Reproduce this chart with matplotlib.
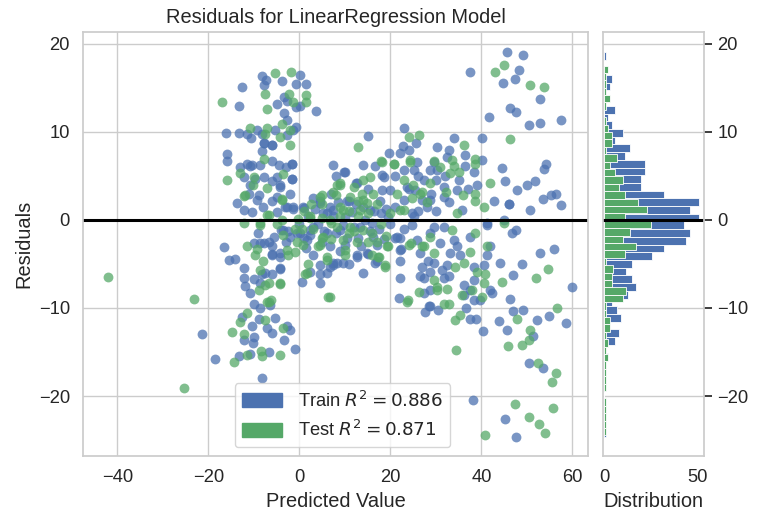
import numpy as np
import matplotlib.pyplot as plt
import seaborn as sns
from matplotlib.patches import Patch

# scatter points: (predicted value, residual)
train_pts = [
    (-8.1,16.4),(-7.4,15.9),(-7.8,15.3),(-3.7,15.8),(0.2,16.5),(-0.8,15.5),(1.4,15.5),(-12.5,15.1),
    (-13.3,13.0),(-4.8,13.2),(-3.3,14.0),(-2.7,13.5),(-0.8,12.8),(0.2,13.0),(3.6,12.4),(-3.3,12.1),
    (-2.7,11.4),(-0.8,10.6),(-1.3,10.2),(-16.2,9.9),(-13.3,9.9),(-11.5,9.8),(-10.6,9.3),(-9.3,10.2),
    (-8.2,9.8),(-5.3,10.2),(-2.7,9.7),(-7.7,8.7),(-5.9,8.5),(-8.1,7.8),(-15.8,7.5),(-16.0,6.7),
    (-13.0,6.0),(-11.5,6.4),(-10.4,6.3),(-8.6,6.3),(-6.0,6.7),(-4.5,6.3),(-2.9,6.0),(-1.7,6.4),
    (7.5,6.3),(-12.2,4.9),(-9.7,4.7),(-7.7,4.9),(-6.0,4.4),(-4.2,4.0),(-1.5,4.7),(-4.9,4.9),
    (-10.8,4.0),(-8.9,2.8),(-9.3,2.3),(-13.7,1.9),(-10.4,0.9),(-4.9,0.9),(-2.7,1.5),(-1.3,1.5),
    (1.1,1.4),(-4.9,2.6),(4.6,1.9),(7.5,1.1),
    (45.6,19.1),(49.1,18.8),(37.6,16.8),(48.2,17.0),(47.5,16.0),(44.7,15.6),(52.8,13.8),(46.4,12.7),
    (47.6,12.3),(41.7,11.7),(50.4,10.8),(53.0,11.0),(57.6,11.4),(40.1,9.3),(23.1,10.4),(15.2,9.5),
    (14.1,6.3),(19.8,7.6),(22.7,8.4),(25.7,8.7),(30.3,8.3),(33.9,9.3),(36.5,7.4),(40.1,6.8),
    (44.5,5.9),(45.1,4.4),(53.7,5.8),(54.2,6.4),(50.1,4.0),(51.7,4.4),(47.8,3.4),(55.2,2.8),
    (56.3,3.0),(53.5,2.4),(57.6,1.7),(46.0,1.8),(50.8,1.1),(42.7,2.1),(39.1,4.0),(36.5,6.1),
    (38.3,5.5),(16.7,6.1),(18.5,4.9),(12.5,4.2),(9.9,5.5),(25.1,5.7),(28.8,5.7),(32.5,7.2),
    (27.3,4.5),(23.7,3.8),(20.0,3.4),(34.7,3.4),(31.7,2.6),(35.8,1.1),(41.3,-0.4),(44.9,0.0),
    (28.8,2.3),(25.1,0.4),
    (-16.5,-3.1),(-15.5,-4.5),(-12.1,-5.5),(-12.2,-6.6),(-11.9,-7.5),(-10.8,-8.3),(-9.9,-6.7),(-8.6,-7.2),
    (-7.5,-6.0),(-6.0,-6.1),(-4.3,-5.6),(-10.0,-2.6),(-8.6,-2.6),(-6.7,-2.5),(-5.9,-3.9),(-4.2,-4.2),
    (-4.0,-1.1),(-2.4,-1.3),(0.1,-1.5),(2.4,-1.7),(-10.0,-9.5),(-8.6,-10.0),(-6.4,-9.7),(-12.6,-11.0),
    (-10.3,-12.1),(-8.9,-11.2),(-7.1,-12.3),(-5.3,-11.1),(-2.7,-12.0),(-2.1,-12.5),(-3.3,-13.6),(-6.0,-12.8),
    (-12.2,-13.6),(-10.2,-14.0),(-10.0,-13.3),(-6.7,-15.0),(-10.9,-15.2),(-13.3,-15.5),(-0.9,-14.7),(-21.3,-13.0),
    (-18.5,-15.8),(-8.1,-17.9),(4.6,-5.1),(4.6,-7.2),(0.6,-7.1),(2.4,-5.9),(7.5,-5.1),
    (46.1,1.8),(46.7,-1.5),(47.6,-1.1),(41.2,-0.6),(53.0,-3.8),(55.9,-3.3),(48.9,-5.0),(47.0,-6.3),
    (59.9,-7.6),(46.4,-9.0),(46.9,-10.3),(49.1,-10.2),(52.3,-11.4),(54.8,-10.9),(58.7,-11.7),(43.8,-11.5),
    (45.6,-12.5),(40.3,-12.6),(51.3,-13.2),(50.5,-16.2),(53.5,-16.8),(38.1,-20.5),(45.3,-22.6),(47.6,-24.7),
    (37.6,-11.2),(38.8,-11.3),(36.6,-10.0),(27.6,-10.4),(28.6,-9.8),(30.4,-10.2),(21.8,-8.9),(22.2,-6.6),
    (22.2,-4.7),(22.4,-3.3),(22.2,-2.1),(21.1,-2.1),(17.1,-4.7),(15.2,-3.9),(12.7,-4.0),(9.7,-4.9),
    (7.5,-4.9),(27.0,-5.3),(28.2,-4.7),(28.8,-5.9),(27.3,-6.6),(27.3,-8.3),(31.4,-5.7),(31.7,-6.6),
    (32.8,-6.4),(32.5,-5.1),(33.2,-3.8),(34.7,-3.0),(35.4,-4.0),(36.1,-7.4),(38.3,-6.8),(38.3,-5.3),
    (42.0,-8.0),(42.3,-8.3),(36.1,-8.5),(40.5,-5.1),(44.2,-4.9),(42.0,-3.0),(41.2,-4.0),(24.8,-0.6),
    (29.5,-0.8),(31.0,-2.6),(33.9,-2.3),(37.6,-1.9),(16.7,-4.9),(38.3,-9.1),(39.8,-9.1),(37.6,-8.0),
    (10.1,5.5),(12.7,4.2),(18.2,5.1),(4.6,2.1),(6.8,1.5),(5.3,0.8),(10.5,2.1),(15.6,1.1),
    (17.8,2.1),(18.2,3.4),(3.1,-0.8),(6.1,-1.5),(9.0,-1.1),(13.4,-0.8),(16.3,-1.9),(6.8,-3.0),
    (10.1,-2.8),(12.7,-4.2),(14.9,-3.8),(6.8,-5.3),(8.3,-4.9),(4.6,-6.1),(2.4,-1.1),(1.7,-2.3),
    (-0.5,-1.5),(-2.0,-1.9),(-3.5,-1.1),(-5.6,-1.9),(-7.8,-2.6),(0.9,1.5),(-1.3,1.3),(-3.1,1.5),
    (-4.2,3.8),(-1.6,4.7),(-1.6,6.4),(-6.0,8.5),(-7.8,8.7),(-10.8,6.1),(22.2,7.6),(22.9,5.7),
    (25.9,6.6),(29.5,6.6),(30.3,5.7),(31.7,3.8),(25.5,3.4),(22.9,2.3),(28.1,1.5),(24.8,0.8),
    (21.5,-1.9),(22.2,-3.4),(25.9,-2.3),(28.8,-1.5),(31.7,-0.8),(26.6,-3.8),(29.5,-4.9),(26.6,-6.4),
    (28.8,-8.0),(28.8,-9.8),(-8.2,-6.1),(-6.0,-4.0),(-4.2,-3.8),(-4.2,-5.5),(-12.2,1.1),(-14.1,-4.4),
    (2,0.5),(4,-0.5),(6,0.8),(8,-1.5),(10,0.3),(12,-0.8),(14,1.5),(16,-0.3),
    (18,0.8),(1,-2),(3,2.5),(5,-2.5),(7,3),(9,-3.5),(11,2.2),(13,-2),
    (15,3.5),(17,-2.8),(19,1.2),(20,-0.5),(3,-4),(11,-5),(14,-6),(8,5),(6,-6),
    (0,-0.5),(1.5,-3.2),(3.5,1.2),(5.5,-1.2),(7.5,0.4),(8.5,2),(9.5,-0.6),(10.5,-2),
    (11.5,0.9),(12.5,1.8),(13.5,-3),(14.5,0),(15.5,-1.2),(16.5,1.0),(17.5,-1),(18.5,-2.2),
    (19.5,0.3),(21,1.5),(23,-1),(24,3.5),(26,1),(27,2.3),(29,3),(30,1),
    (32,5),(33,2),(35,4.5),(37,3.5),(26,5),(30,4.5),(33,8),(24,8),
    (21,5),(-2,3),(-3,-2.5),(-6,-3),(-9,-1.5),(-11,3),(-8,1.5),(-6,2.2),
]

test_pts = [
    (-16.9,13.4),(-5.4,16.7),(-1.8,16.8),(-7.6,14.3),(-7.0,12.6),(-2.3,14.3),(1.5,14.2),(1.5,13.4),
    (-1.3,13.4),(-10.9,10.5),(-7.0,10.5),(-7.5,9.8),(-3.7,10.9),(-4.2,9.4),(-2.0,10.2),(-2.1,8.5),
    (-7.8,6.9),(-13.1,5.3),(-15.8,4.5),(-10.0,4.9),(-10.2,4.0),(-7.1,3.6),(-3.6,5.2),(-12.0,2.8),
    (-3.7,2.3),(-6.7,0.6),(5.0,2.8),(8.3,4.0),(2.4,0.4),(-0.2,0.1),
    (44.9,17.6),(43.1,16.8),(50.6,15.3),(53.7,15.1),(46.4,9.2),(13.0,8.3),(24.1,9.4),(26.4,9.6),
    (36.1,8.5),(18.0,6.7),(20.9,6.4),(24.4,6.6),(29.7,6.7),(33.6,6.8),(38.7,6.9),(38.7,6.4),
    (33.2,5.3),(34.1,6.1),(15.6,4.9),(28.8,4.2),(32.3,3.2),(42.0,4.2),(38.7,3.0),(38.7,2.2),
    (36.0,2.8),(40.5,1.5),(26.6,3.0),(34.7,0.8),(44.9,-0.4),(9.0,4.2),(14.1,2.3),(22.2,1.1),
    (-42.1,-6.5),(-23.1,-9.0),(-25.4,-19.1),(-11.5,-3.0),(-9.3,-3.3),(-8.0,-4.7),(-8.6,-5.7),(-6.7,-7.2),
    (-8.9,-8.0),(-4.2,-7.3),(-7.1,-9.3),(-6.2,-9.1),(-11.5,-10.6),(-13.1,-11.6),(-14.8,-12.7),(-12.2,-12.9),
    (-7.5,-11.4),(-3.5,-12.3),(-8.4,-14.9),(-8.2,-15.5),(-11.5,-15.3),(-14.4,-16.1),(-4.3,-15.3),(6.7,-8.8),
    (1.7,-6.0),(-2.7,-3.4),(-0.5,-2.5),(-12.2,-0.4),(-8.6,-0.6),(5.0,-2.1),
    (24.0,-2.8),(27.0,-3.0),(18.9,-5.3),(17.6,-4.2),(19.4,-3.0),(23.8,-9.1),(26.4,-8.2),(29.5,-6.8),
    (30.3,-8.0),(32.5,-7.8),(33.0,-9.5),(35.7,-8.5),(37.9,-7.9),(40.1,-8.7),(40.5,-7.2),(39.1,-5.9),
    (40.9,-6.1),(34.3,-11.4),(35.4,-10.8),(34.5,-14.8),(44.5,-7.0),(52.0,-6.6),(54.6,-5.6),(56.6,-10.0),
    (47.8,-11.2),(50.8,-12.5),(50.4,-13.6),(48.9,-14.2),(45.8,-14.3),(52.4,-16.3),(56.4,-17.4),(55.5,-18.4),
    (47.3,-20.9),(55.7,-21.4),(50.4,-22.4),(52.7,-23.2),(54.1,-24.2),(40.9,-24.4),(37.6,-3.6),(41.2,-3.0),
    (38.7,-1.5),(33.6,-1.1),(28.8,-1.9),(24.5,-2.6),(17.1,-2.5),(36.1,-4.9),(34.3,-5.3),
    (18.2,6.6),(20.7,6.4),(9.0,4.0),(7.5,3.2),(11.2,2.6),(13.8,3.0),(16.3,3.0),(14.9,1.9),
    (13.4,1.1),(9.7,1.1),(6.8,0.0),(8.3,-0.8),(11.2,-0.8),(14.1,-1.1),(5.3,-1.9),(9.7,-2.3),
    (12.7,-2.5),(4.6,-2.8),(6.1,-4.2),(10.1,-3.4),(19.3,-3.0),(17.4,-4.2),(18.9,-5.1),(1.3,-6.1),
    (6.4,-8.7),(4.6,2.6),(2.4,0.2),(0.9,-2.8),(-0.9,-3.6),(-2.4,-4.0),(-3.5,-1.7),(-3.8,0.0),
    (-8.6,-0.4),(-9.7,-4.0),(-7.5,-7.4),(-4.2,-7.2),(-6.7,-9.3),(-12.1,2.7),(-3.8,2.4),(-7.1,0.6),
    (23.7,-9.3),(22.9,1.1),(24.8,2.5),(24.4,6.8),(27.0,3.2),(27.3,-3.0),(29.5,-3.8),(30.3,-7.6),
    (31.7,-9.5),
    (1,1),(3,-1),(5,1.8),(7,-0.3),(9,1.5),(11,-1.5),(13,0.5),(15,-2.5),
    (17,1.8),(19,-1.8),(4,-3),(8,2.8),(12,3.8),(16,-4),(10,-4),(6,-4.5),(14,4.5),(2,-5),
    (0.5,-1),(2.5,1.8),(5,0.2),(7,-2.2),(9,0.5),(11,1),(12,-1.2),(13,2.2),
    (15,0.8),(16,-1.5),(18,-0.5),(20,0.8),(21.5,3),(23,4.5),(25,4),(28,2),
    (31,6),(35,5.5),(-1,-1),(-5,-0.5),
]

# histogram: 50 bins each, counts from bottom bin to top bin
train_range = (-24.7, 19.1)
train_counts = [1, 0, 0, 1, 0, 0, 1, 0, 1, 0, 2, 1, 6, 8, 2, 9, 7, 4, 13, 17,
                15, 12, 15, 26, 32, 44, 46, 43, 51, 46, 51, 32, 20, 20, 22, 22, 11, 14, 6, 10,
                4, 2, 6, 1, 1, 3, 4, 1, 0, 1]
test_range = (-24.48, 17.55)
test_counts = [1, 1, 1, 1, 1, 0, 1, 1, 1, 1, 2, 1, 2, 1, 3, 3, 1, 1, 10, 12,
               4, 4, 5, 1, 11, 17, 10, 14, 25, 11, 23, 18, 11, 8, 10, 6, 3, 7, 1, 4,
               4, 2, 1, 0, 1, 3, 1, 1, 1, 2]

train_r2 = 0.886
test_r2 = 0.871

sns.set_theme(style='whitegrid')
plt.rcParams['font.family'] = ['Liberation Sans', 'DejaVu Sans']
plt.rcParams['xtick.labelsize'] = 13.2
plt.rcParams['ytick.labelsize'] = 13.2
blue, green = sns.color_palette('deep')[0], sns.color_palette('deep')[2]

fig = plt.figure(figsize=(7.63, 5.27), dpi=100)
ax = fig.add_axes([0.109, 0.135, 0.662, 0.805])
hax = fig.add_axes([0.790, 0.135, 0.133, 0.805], sharey=ax)

tr = np.array(train_pts)
te = np.array(test_pts)
ax.scatter(tr[:, 0], tr[:, 1], c=[blue], alpha=0.75, s=50, lw=0)
ax.scatter(te[:, 0], te[:, 1], c=[green], alpha=0.75, s=50, lw=0)
ax.axhline(0, color='black', lw=2.2)

ax.set_xlim(-47.5, 63.5)
ax.set_ylim(-26.8, 21.4)
ax.set_xticks([-40, -20, 0, 20, 40, 60])
ax.set_yticks([-20, -10, 0, 10, 20])
ax.set_title('Residuals for LinearRegression Model', fontsize=14.4)
ax.set_xlabel('Predicted Value', fontsize=14.4)
ax.set_ylabel('Residuals', fontsize=14.4)

ax.legend(handles=[Patch(color=blue, label='Train $R^2 = %.3f$' % train_r2),
                   Patch(color=green, label='Test $R^2 = %.3f$' % test_r2)],
          loc='lower left', bbox_to_anchor=(0.30, 0.02), borderaxespad=0,
          frameon=True, fontsize=13.2, handlelength=2.2, handleheight=0.8,
          handletextpad=0.85)

# distribution of residuals
for lo_hi, counts, col in [(train_range, train_counts, blue), (test_range, test_counts, green)]:
    edges = np.linspace(lo_hi[0], lo_hi[1], len(counts) + 1)
    w = edges[1] - edges[0]
    hax.barh(edges[:-1] + w / 2, counts, height=w, color=col, edgecolor='white', lw=0.6)
hax.axhline(0, color='black', lw=2.2)
hax.set_xlim(-0.7, 53.8)
hax.set_xticks([0, 50])
hax.grid(False, axis='x')
hax.yaxis.tick_right()
hax.tick_params(axis='y', right=True, length=6, color='.15')
hax.set_xlabel('Distribution', fontsize=14.4)

fig.savefig('out.png', dpi=100)
